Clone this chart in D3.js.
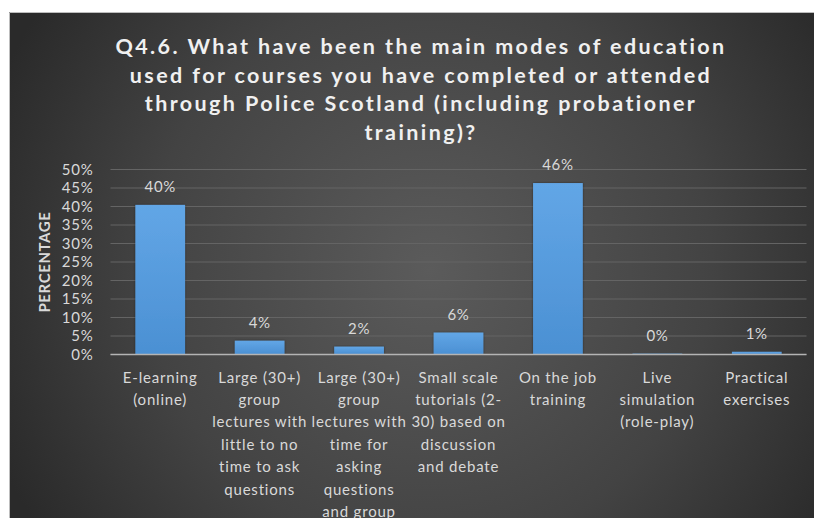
<!DOCTYPE html>
<html>
<head>
<meta charset="utf-8">
<script src="https://cdn.jsdelivr.net/npm/d3@7/dist/d3.min.js"></script>
<style>
  html, body { margin: 0; padding: 0; background: #ffffff; }
  svg { display: block; }
</style>
</head>
<body>
<svg id="chart" width="814" height="518"></svg>
<script>
// Survey answers: share of respondents per mode of education
const categories = [
  "E-learning (online)",
  "Large (30+) group lectures with little to no time to ask questions",
  "Large (30+) group lectures with time for asking questions and group",
  "Small scale tutorials (2-30) based on discussion and debate",
  "On the job training",
  "Live simulation (role-play)",
  "Practical exercises"
];
// Wrapped lines of each category label, as shown under the axis
const categoryLines = [
  ["E-learning", "(online)"],
  ["Large (30+)", "group", "lectures with", "little to no", "time to ask", "questions"],
  ["Large (30+)", "group", "lectures with", "time for", "asking", "questions", "and group"],
  ["Small scale", "tutorials (2-", "30) based on", "discussion", "and debate"],
  ["On the job", "training"],
  ["Live", "simulation", "(role-play)"],
  ["Practical", "exercises"]
];
const percentages = [0.403, 0.036, 0.020, 0.058, 0.462, 0.001, 0.006];
const yTicks = [0, 0.05, 0.10, 0.15, 0.20, 0.25, 0.30, 0.35, 0.40, 0.45, 0.50];
const titleLines = [
  "Q4.6. What have been the main modes of education",
  "used for courses you have completed or attended",
  "through Police Scotland (including probationer",
  "training)?"
];
const yAxisTitle = "PERCENTAGE";

const W = 814, H = 518;
const svg = d3.select("#chart");
const defs = svg.append("defs");

// Dark radial backdrop
const bg = defs.append("radialGradient").attr("id", "bgGrad")
  .attr("gradientUnits", "userSpaceOnUse")
  .attr("cx", 430).attr("cy", 270).attr("r", 470)
  .attr("fx", 430).attr("fy", 270);
bg.append("stop").attr("offset", "0%").attr("stop-color", "#5b5b5b");
bg.append("stop").attr("offset", "60%").attr("stop-color", "#434343");
bg.append("stop").attr("offset", "100%").attr("stop-color", "#2a2a2a");

// Bar fill
const barGrad = defs.append("linearGradient").attr("id", "barGrad")
  .attr("x1", 0).attr("y1", 0).attr("x2", 0).attr("y2", 1);
barGrad.append("stop").attr("offset", "0%").attr("stop-color", "#62a6e6");
barGrad.append("stop").attr("offset", "100%").attr("stop-color", "#4b90d3");

const shadow = defs.append("filter").attr("id", "barShadow")
  .attr("x", "-20%").attr("y", "-20%").attr("width", "140%").attr("height", "140%");
shadow.append("feDropShadow").attr("dx", 0).attr("dy", 0).attr("stdDeviation", 1.2)
  .attr("flood-color", "#000").attr("flood-opacity", 0.45);

// Chart area
const frame = { x: 9, y: 12 };
svg.append("rect")
  .attr("x", frame.x).attr("y", frame.y)
  .attr("width", W - frame.x).attr("height", H - frame.y)
  .attr("fill", "url(#bgGrad)");
svg.append("path")
  .attr("d", `M${frame.x + 0.5},${H} V${frame.y + 0.5} H${W}`)
  .attr("fill", "none").attr("stroke", "#bdbdbd").attr("stroke-width", 1);

const plot = { left: 110.5, right: 806.5, top: 169, bottom: 354 };

const x = d3.scaleBand()
  .domain(categories)
  .range([plot.left, plot.right])
  .paddingInner(0.5)
  .paddingOuter(0.25);

const y = d3.scaleLinear()
  .domain([0, 0.5])
  .range([plot.bottom, plot.top]);

const fmt = d3.format(".0%");
const textColor = "#d9d9d9";
const font = "Lato, 'Open Sans', 'DejaVu Sans', sans-serif";

// Title
svg.append("g")
  .selectAll("text")
  .data(titleLines)
  .join("text")
  .attr("x", 421)
  .attr("y", (d, i) => 54 + i * 28.7)
  .attr("text-anchor", "middle")
  .attr("fill", "#f0f0f0")
  .attr("font-family", font)
  .attr("font-weight", "bold")
  .attr("font-size", 21.5)
  .attr("letter-spacing", 2.4)
  .text(d => d);

// Gridlines + y-axis labels
const yAxis = d3.axisLeft(y)
  .tickValues(yTicks)
  .tickFormat(fmt)
  .tickSize(-(plot.right - plot.left))
  .tickPadding(17);

const gy = svg.append("g")
  .attr("transform", `translate(${plot.left},0)`)
  .call(yAxis);
gy.select(".domain").remove();
gy.selectAll(".tick line")
  .attr("stroke", "#646464")
  .attr("stroke-width", 1);
gy.selectAll(".tick text")
  .attr("fill", textColor)
  .attr("font-family", font)
  .attr("font-size", 15)
  .attr("letter-spacing", 0.8)
  .attr("dy", "0.36em");

// Y-axis title
svg.append("text")
  .attr("transform", "translate(50,262) rotate(-90)")
  .attr("text-anchor", "middle")
  .attr("fill", textColor)
  .attr("font-family", font)
  .attr("font-weight", "bold")
  .attr("font-size", 15)
  .attr("letter-spacing", 0.6)
  .text(yAxisTitle);

// Bars
const rows = categories.map((c, i) => ({ cat: c, value: percentages[i], lines: categoryLines[i] }));

svg.append("g")
  .selectAll("rect")
  .data(rows)
  .join("rect")
  .attr("x", d => x(d.cat))
  .attr("y", d => y(d.value))
  .attr("width", x.bandwidth())
  .attr("height", d => Math.max(0, y(0) - y(d.value)))
  .attr("fill", "url(#barGrad)")
  .attr("filter", "url(#barShadow)");

// Baseline
svg.append("line")
  .attr("x1", plot.left).attr("x2", plot.right)
  .attr("y1", y(0) + 0.5).attr("y2", y(0) + 0.5)
  .attr("stroke", "#b4b4b4")
  .attr("stroke-width", 1.5);

// Value labels
svg.append("g")
  .selectAll("text")
  .data(rows)
  .join("text")
  .attr("x", d => x(d.cat) + x.bandwidth() / 2)
  .attr("y", d => y(d.value) - 13)
  .attr("text-anchor", "middle")
  .attr("fill", textColor)
  .attr("font-family", font)
  .attr("font-size", 15)
  .attr("letter-spacing", 0.6)
  .text(d => fmt(d.value));

// Category labels
const catG = svg.append("g")
  .selectAll("text")
  .data(rows)
  .join("text")
  .attr("text-anchor", "middle")
  .attr("fill", textColor)
  .attr("font-family", font)
  .attr("font-size", 15)
  .attr("letter-spacing", 0.8);
catG.selectAll("tspan")
  .data(d => d.lines.map(l => ({ line: l, cat: d.cat })))
  .join("tspan")
  .attr("x", d => x(d.cat) + x.bandwidth() / 2)
  .attr("y", (d, i) => y(0) + 28.5 + i * 22.4)
  .text(d => d.line);
</script>
</body>
</html>
